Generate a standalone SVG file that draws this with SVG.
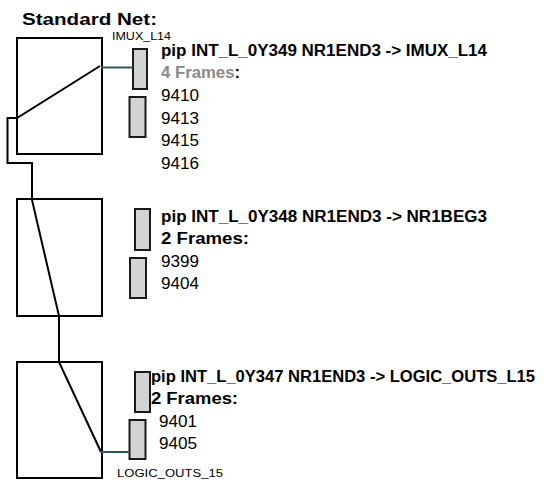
<svg xmlns="http://www.w3.org/2000/svg" width="546" height="481" viewBox="0 0 546 481">
<style>
.box{fill:#fff;stroke:#000;stroke-width:2}
.pip{fill:#d3d3d3;stroke:#1a1a1a;stroke-width:2}
.w{fill:none;stroke:#000;stroke-width:2}
.t{fill:none;stroke:#2f5a5a;stroke-width:2}
.h{font-family:"Liberation Sans",Arial,sans-serif;font-weight:bold;font-size:16px;fill:#000}
.g{fill:#8a8a8a}
.n{font-family:"Liberation Sans",Arial,sans-serif;font-size:16px;fill:#000}
.s{font-family:"Liberation Sans",Arial,sans-serif;font-size:10px;fill:#000}
</style>
<rect width="546" height="481" fill="#fff"/>
<text class="h" x="22" y="25" font-size="19" textLength="135" lengthAdjust="spacingAndGlyphs">Standard Net:</text>
<g id="tile1">
<rect class="box" x="17" y="38" width="85" height="116"/>
<text class="s" x="112" y="40" textLength="59" lengthAdjust="spacingAndGlyphs">IMUX_L14</text>
</g>
<g id="tile2">
<rect class="box" x="17" y="199" width="85" height="117"/>
</g>
<g id="tile3">
<rect class="box" x="17" y="362" width="85" height="116"/>
<text class="s" x="117" y="477" textLength="106" lengthAdjust="spacingAndGlyphs">LOGIC_OUTS_15</text>
</g>
<g id="pip1">
<rect class="pip" x="133" y="49" width="14" height="40"/>
<rect class="pip" x="129.5" y="97" width="16" height="40"/>
<text class="h" x="161" y="56" textLength="326" lengthAdjust="spacingAndGlyphs">pip INT_L_0Y349 NR1END3 -&gt; IMUX_L14</text>
<text class="h" x="161" y="78" textLength="79" lengthAdjust="spacingAndGlyphs"><tspan class="g">4 Frames</tspan>:</text>
<text class="n" x="161" y="101" textLength="38" lengthAdjust="spacingAndGlyphs">9410</text>
<text class="n" x="161" y="123.5" textLength="38" lengthAdjust="spacingAndGlyphs">9413</text>
<text class="n" x="161" y="146" textLength="38" lengthAdjust="spacingAndGlyphs">9415</text>
<text class="n" x="161" y="168.5" textLength="38" lengthAdjust="spacingAndGlyphs">9416</text>
</g>
<g id="pip2">
<rect class="pip" x="135" y="209" width="15" height="41"/>
<rect class="pip" x="130" y="258" width="16" height="40"/>
<text class="h" x="161" y="222" textLength="326" lengthAdjust="spacingAndGlyphs">pip INT_L_0Y348 NR1END3 -&gt; NR1BEG3</text>
<text class="h" x="161" y="244" textLength="88" lengthAdjust="spacingAndGlyphs">2 Frames:</text>
<text class="n" x="161" y="267" textLength="38" lengthAdjust="spacingAndGlyphs">9399</text>
<text class="n" x="161" y="289" textLength="38" lengthAdjust="spacingAndGlyphs">9404</text>
</g>
<g id="pip3">
<rect class="pip" x="135" y="372" width="15" height="40"/>
<rect class="pip" x="129.5" y="420" width="16" height="39"/>
<text class="h" x="151" y="382" textLength="384" lengthAdjust="spacingAndGlyphs">pip INT_L_0Y347 NR1END3 -&gt; LOGIC_OUTS_L15</text>
<text class="h" x="151" y="404" textLength="87" lengthAdjust="spacingAndGlyphs">2 Frames:</text>
<text class="n" x="159" y="427" textLength="38" lengthAdjust="spacingAndGlyphs">9401</text>
<text class="n" x="159" y="449" textLength="38" lengthAdjust="spacingAndGlyphs">9405</text>
</g>
<g id="connectors">
<polyline class="w" points="100,66 17,118 7.5,118 7.5,163 32,163 32,200 59,316 59,362 101,452"/>
<line class="t" x1="101" y1="67.5" x2="133" y2="67.5"/>
<line class="t" x1="101" y1="452" x2="129.5" y2="452"/>
</g>
</svg>
